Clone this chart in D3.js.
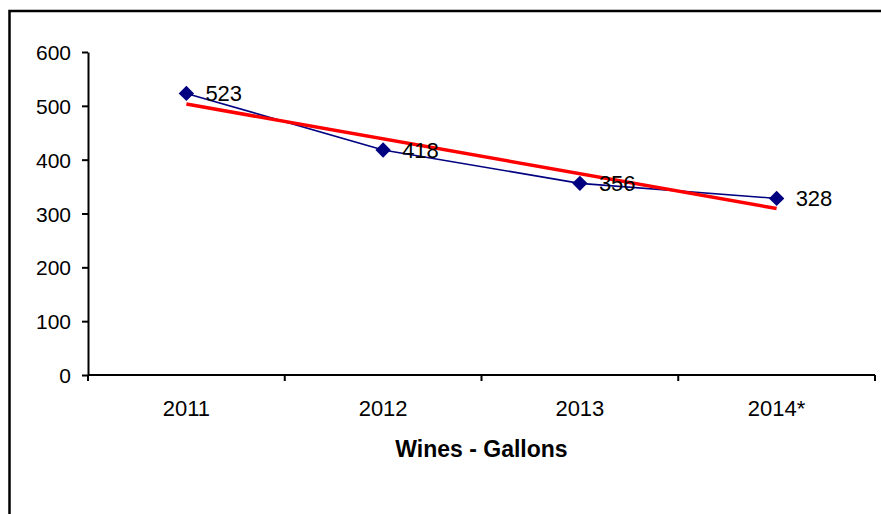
<!DOCTYPE html>
<html>
<head>
<meta charset="utf-8">
<script src="https://cdn.jsdelivr.net/npm/d3@7"></script>
<style>
  html, body { margin: 0; padding: 0; background: #fff; }
  svg { display: block; }
  text { font-family: "Liberation Sans", Arial, sans-serif; fill: #000; }
</style>
</head>
<body>
<svg id="chart" width="881" height="514"></svg>
<script>
// Wine volumes by year (gallons)
const years = ["2011", "2012", "2013", "2014*"];
const gallons = [523, 418, 356, 328];
const yTicks = [0, 100, 200, 300, 400, 500, 600];
const axisTitle = "Wines - Gallons";

const svg = d3.select("#chart");
const W = 881, H = 514;

// outer frame (top and left edges visible)
svg.append("path")
  .attr("d", `M9.5,${H + 5} V11 H${W + 5}`)
  .attr("fill", "none")
  .attr("stroke", "#000")
  .attr("stroke-width", 2.5);

const plot = { left: 88, right: 875, top: 52, bottom: 375 };

const x = d3.scaleBand()
  .domain(years)
  .range([plot.left, plot.right]);

const y = d3.scaleLinear()
  .domain([0, 600])
  .range([plot.bottom, plot.top]);

// y axis
const yAxis = svg.append("g")
  .attr("transform", `translate(${plot.left},0)`)
  .call(d3.axisLeft(y).tickValues(yTicks).tickSize(6).tickPadding(11).tickSizeOuter(0));
yAxis.select(".domain").attr("stroke", "#000").attr("stroke-width", 2);
yAxis.selectAll(".tick line").attr("stroke", "#000").attr("stroke-width", 2);
yAxis.selectAll(".tick text").style("font-size", "21px").attr("dy", "0.36em");

// x axis with ticks on category boundaries
const xAxis = svg.append("g")
  .attr("transform", `translate(0,${plot.bottom})`);
xAxis.append("line")
  .attr("x1", plot.left).attr("x2", plot.right)
  .attr("stroke", "#000").attr("stroke-width", 2);
const boundaries = years.map(d => x(d)).concat([x(years[years.length - 1]) + x.bandwidth()]);
xAxis.selectAll(".xtick")
  .data(boundaries)
  .join("line")
  .attr("x1", d => d).attr("x2", d => d)
  .attr("y1", 0).attr("y2", 6)
  .attr("stroke", "#000").attr("stroke-width", 2);
xAxis.selectAll(".xlabel")
  .data(years)
  .join("text")
  .attr("x", d => x(d) + x.bandwidth() / 2)
  .attr("y", 41)
  .attr("text-anchor", "middle")
  .style("font-size", "22px")
  .text(d => d);

// axis title
svg.append("text")
  .attr("x", (plot.left + plot.right) / 2)
  .attr("y", 457)
  .attr("text-anchor", "middle")
  .style("font-size", "23px")
  .style("font-weight", "bold")
  .text(axisTitle);

const cx = d => x(d) + x.bandwidth() / 2;
const pts = years.map((d, i) => ({ year: d, v: gallons[i] }));

// data line
svg.append("path")
  .datum(pts)
  .attr("fill", "none")
  .attr("stroke", "#000080")
  .attr("stroke-width", 1.6)
  .attr("d", d3.line().x(d => cx(d.year)).y(d => y(d.v)));

// linear trend line (least squares over category index)
const n = gallons.length;
const xs = d3.range(1, n + 1);
const mx = d3.mean(xs), my = d3.mean(gallons);
const slope = d3.sum(xs, (t, i) => (t - mx) * (gallons[i] - my)) / d3.sum(xs, t => (t - mx) ** 2);
const intercept = my - slope * mx;
const trend = [
  { year: years[0], v: intercept + slope * 1 },
  { year: years[n - 1], v: intercept + slope * n }
];
svg.append("path")
  .datum(trend)
  .attr("fill", "none")
  .attr("stroke", "#ff0000")
  .attr("stroke-width", 3.5)
  .attr("d", d3.line().x(d => cx(d.year)).y(d => y(d.v)));

// diamond markers
svg.selectAll(".marker")
  .data(pts)
  .join("path")
  .attr("d", d3.symbol().type(d3.symbolDiamond2).size(150))
  .attr("transform", d => `translate(${cx(d.year)},${y(d.v)})`)
  .attr("fill", "#000080");

// value labels
svg.selectAll(".vlabel")
  .data(pts)
  .join("text")
  .attr("x", d => cx(d.year) + 19)
  .attr("y", d => y(d.v))
  .attr("dy", "0.36em")
  .style("font-size", "22px")
  .text(d => d.v);
</script>
</body>
</html>
